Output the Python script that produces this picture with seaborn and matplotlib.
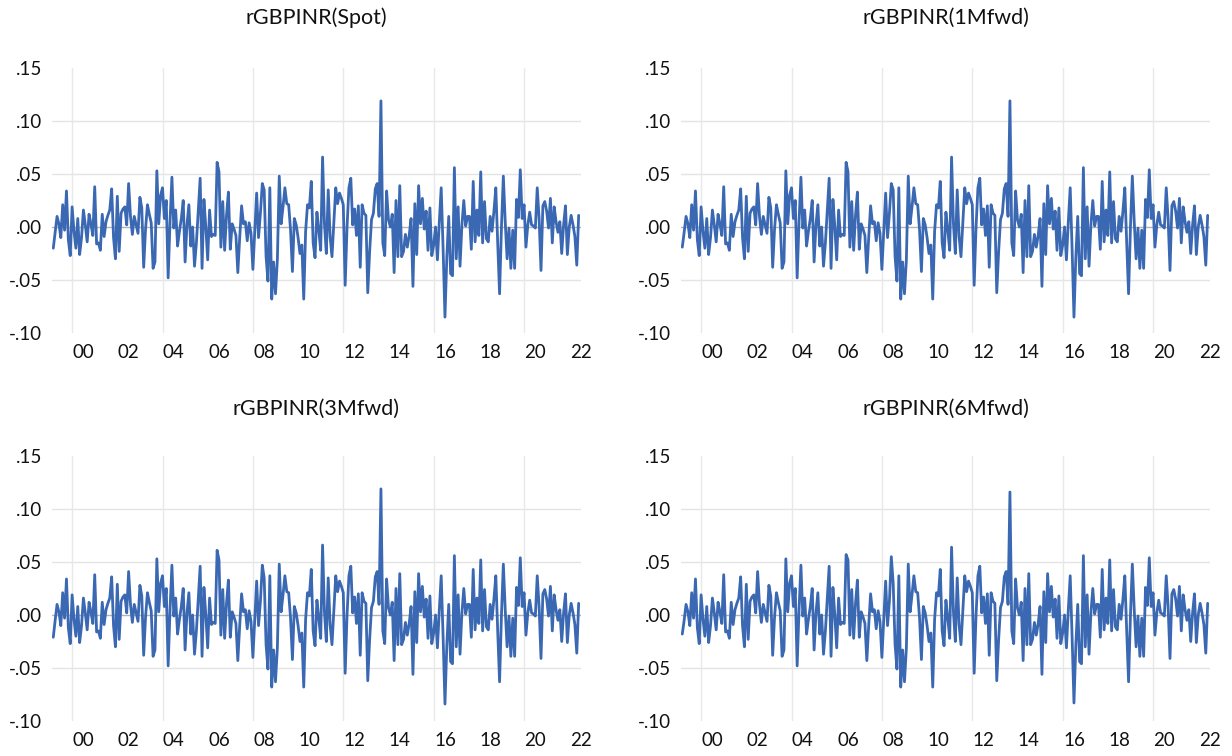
import numpy as np
import pandas as pd
import matplotlib
matplotlib.use("Agg")
import matplotlib.pyplot as plt
import seaborn as sns

# ---------------- data ----------------
titles = ["rGBPINR(Spot)", "rGBPINR(1Mfwd)", "rGBPINR(3Mfwd)", "rGBPINR(6Mfwd)"]
start_year, start_month = 1999, 3   # first monthly observation

spot = [
    -0.020, -0.005, 0.010, 0.003, -0.010, 0.021, -0.003, 0.034, -0.012, -0.027,
    0.019, -0.004, -0.020, 0.008, -0.026, -0.010, 0.016, 0.002, -0.014, 0.012,
    0.003, -0.008, 0.038, -0.016, -0.015, -0.022, 0.012, -0.009, 0.005, 0.011,
    0.016, 0.036, -0.010, -0.030, 0.029, -0.023, 0.013, 0.017, 0.019, 0.002,
    0.041, 0.010, -0.007, 0.010, 0.002, -0.006, 0.028, 0.018, -0.038, -0.002,
    0.021, 0.012, 0.004, -0.039, -0.033, 0.053, 0.003, 0.030, 0.037, 0.008,
    0.025, -0.048, 0.005, 0.047, -0.001, 0.016, -0.018, -0.004, 0.008, 0.025,
    -0.033, 0.002, 0.021, -0.018, 0.000, -0.037, -0.015, 0.015, 0.046, -0.039,
    0.026, 0.000, -0.031, 0.016, -0.009, -0.007, -0.008, 0.061, 0.052, -0.019,
    0.024, -0.022, 0.011, 0.033, -0.021, 0.003, -0.002, -0.008, -0.043, -0.010,
    0.020, 0.003, 0.005, -0.013, 0.004, -0.006, -0.040, -0.005, 0.032, -0.010,
    0.013, 0.041, 0.035, -0.028, -0.051, 0.037, -0.068, -0.033, -0.063, -0.031,
    0.048, 0.003, 0.019, 0.037, 0.022, 0.021, -0.003, -0.042, 0.008, 0.002,
    -0.010, -0.025, -0.017, -0.068, -0.004, 0.021, 0.018, 0.043, -0.015, -0.029,
    0.014, -0.003, -0.022, 0.066, 0.003, -0.025, 0.035, -0.009, -0.028, 0.005,
    0.037, 0.022, 0.032, 0.027, 0.021, -0.055, 0.000, 0.037, 0.046, 0.002,
    0.017, -0.008, 0.020, -0.038, 0.021, 0.013, 0.011, -0.062, -0.023, 0.007,
    0.013, 0.036, 0.041, 0.010, 0.119, -0.015, -0.027, 0.034, 0.007, 0.000,
    0.012, -0.043, 0.025, -0.028, 0.039, -0.028, -0.023, -0.007, -0.019, -0.008,
    0.008, -0.056, 0.022, -0.026, 0.039, 0.003, 0.027, -0.002, 0.015, -0.022,
    0.018, -0.027, -0.017, 0.000, -0.031, 0.005, 0.037, -0.020, -0.085, -0.028,
    0.010, -0.044, -0.046, 0.056, -0.030, 0.019, -0.037, 0.002, 0.025, 0.001,
    0.010, 0.010, -0.021, 0.043, -0.014, 0.016, -0.008, 0.052, -0.015, 0.024,
    -0.011, -0.014, 0.010, -0.004, 0.015, 0.037, -0.015, -0.063, 0.000, 0.048,
    0.005, -0.030, -0.001, -0.039, -0.003, -0.039, 0.026, 0.009, 0.054, 0.008,
    0.021, -0.019, 0.002, 0.014, 0.002, 0.001, -0.001, 0.037, 0.008, -0.041,
    0.020, 0.024, 0.015, -0.001, 0.027, -0.015, 0.019, 0.005, -0.005, 0.005,
    -0.025, 0.002, 0.020, -0.026, 0.000, 0.011, 0.002, -0.009, -0.036, 0.011,
]

# forward series: read as the spot path except where they visibly differ
fwd1m_diff = {0: -0.019}
fwd3m_diff = {0: -0.021, 111: 0.047, 208: -0.084}
fwd6m_diff = {0: -0.018, 87: 0.057, 111: 0.055, 112: 0.030, 143: 0.064,
              174: 0.116, 208: -0.083}

ytick_vals = [-0.10, -0.05, 0.00, 0.05, 0.10, 0.15]
ytick_labels = ["-.10", "-.05", ".00", ".05", ".10", ".15"]
xtick_years = list(range(2000, 2023, 2))
xtick_labels = ["00", "02", "04", "06", "08", "10", "12", "14", "16", "18", "20", "22"]
vgrid_years = [2000, 2004, 2008, 2012, 2016, 2020]


def build(diff):
    vals = list(spot)
    for k, v in diff.items():
        vals[k] = v
    return vals


series = [spot, build(fwd1m_diff), build(fwd3m_diff), build(fwd6m_diff)]
n = len(spot)
t = start_year + (start_month - 1 + np.arange(n)) / 12.0

# ---------------- style ----------------
sns.set_style("white")
plt.rcParams["font.family"] = ["Lato", "DejaVu Sans"]

W, H = 1232, 756
fig = plt.figure(figsize=(W / 100, H / 100), dpi=100)

line_color = "#3a68b2"
panels = [  # (left px, top px, title centre y px)
    (52, 68, 18),
    (681, 68, 18),
    (52, 456, 409),
    (681, 456, 409),
]
ax_w, ax_h = 529, 265

for (lx, ty, tcy), title, vals in zip(panels, titles, series):
    ax = fig.add_axes([lx / W, 1 - (ty + ax_h) / H, ax_w / W, ax_h / H])
    df = pd.DataFrame({"t": t, "r": vals})
    for y in [-0.05, 0.05, 0.10]:
        ax.axhline(y, color="#e4e4e4", lw=1.0, zorder=0)
    for yr in vgrid_years:
        ax.axvline(yr, color="#e8e8e8", lw=1.0, zorder=0)
    ax.axhline(0.0, color="#b4b4b4", lw=1.0, zorder=1)
    sns.lineplot(data=df, x="t", y="r", ax=ax, color=line_color, lw=2.0,
                 zorder=3, estimator=None)
    ax.set_xlim(1999.11, 2022.52)
    ax.set_ylim(-0.10, 0.15)
    ax.set_yticks(ytick_vals)
    ax.set_yticklabels(ytick_labels)
    ax.set_xticks([y + 0.5 for y in xtick_years])
    ax.set_xticklabels(xtick_labels)
    ax.tick_params(axis="both", length=0, labelsize=13.5, colors="#111111")
    ax.tick_params(axis="y", pad=7)
    ax.tick_params(axis="x", pad=8)
    ax.set_xlabel("")
    ax.set_ylabel("")
    for s in ax.spines.values():
        s.set_visible(False)
    fig.text((lx + ax_w / 2) / W, 1 - tcy / H, title, ha="center", va="center",
             fontsize=15.5, color="#111111")

fig.savefig("out.png", dpi=100)
